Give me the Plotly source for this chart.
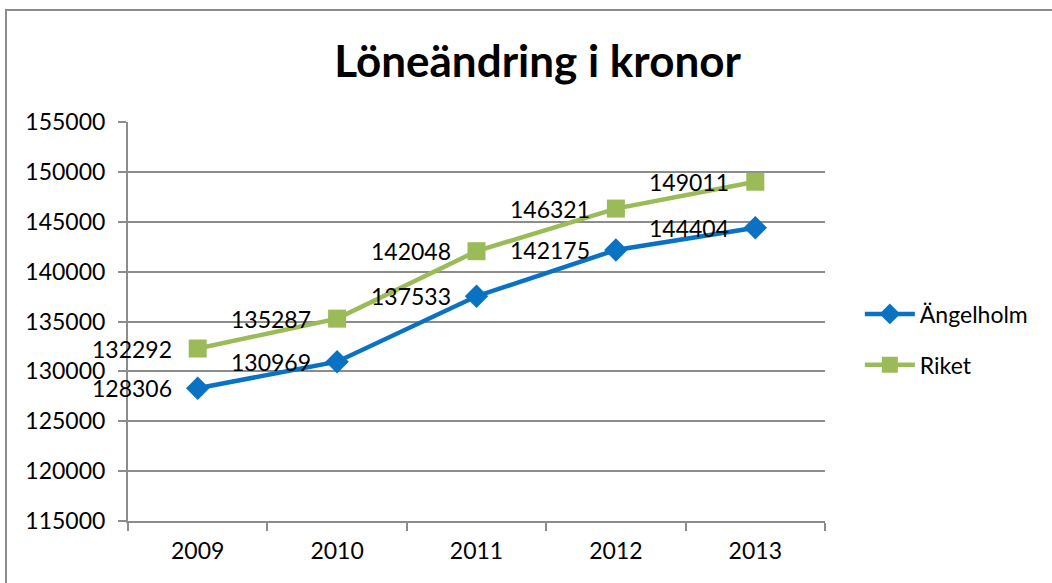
import plotly.graph_objects as go

years = ["2009", "2010", "2011", "2012", "2013"]
angelholm = [128306, 130969, 137533, 142175, 144404]
riket = [132292, 135287, 142048, 146321, 149011]
y_ticks = [115000, 120000, 125000, 130000, 135000, 140000, 145000, 150000, 155000]

font = "Lato, Carlito, 'DejaVu Sans', sans-serif"
grid = "#8c8c8c"
xpos = list(range(len(years)))

fig = go.Figure()
fig.add_trace(go.Scatter(
    x=xpos, y=angelholm, name="Ängelholm", legendgroup="a",
    mode="lines+markers",
    line=dict(color="#0a72c2", width=4.5),
    marker=dict(symbol="diamond", size=18, color="#0a72c2"),
))
fig.add_trace(go.Scatter(
    x=xpos, y=riket, name="Riket", legendgroup="b",
    mode="lines+markers",
    line=dict(color="#9bbb59", width=4.5),
    marker=dict(symbol="square", size=18, color="#9bbb59"),
))

# data labels to the left of each point
for series in (angelholm, riket):
    for i, v in zip(xpos, series):
        fig.add_annotation(x=i, y=v, text=str(v), showarrow=False,
                           xanchor="right", yanchor="middle", xshift=-24,
                           font=dict(size=23, color="black"))

fig.update_layout(
    width=1052, height=583,
    margin=dict(l=128, r=227, t=122, b=62),
    paper_bgcolor="white", plot_bgcolor="white",
    font=dict(family=font, size=23, color="black"),
    title=dict(text="<b>Löneändring i kronor</b>", x=0.511, xanchor="center",
               y=0.895, yanchor="middle", font=dict(size=44)),
    showlegend=True,
    legend=dict(x=1.05, y=0.455, xanchor="left", yanchor="middle",
                font=dict(size=23), tracegroupgap=18, itemwidth=50),
    shapes=[dict(type="rect", xref="paper", yref="paper",
                 x0=(6 - 128) / 697, x1=(1070 - 128) / 697,
                 y0=-0.3, y1=1 + (122 - 10) / 399,
                 line=dict(color="#8c8c8c", width=2))],
)
fig.update_xaxes(
    range=[-0.5, len(years) - 0.5], tickvals=xpos, ticktext=years, ticks="",
    minor=dict(tickvals=[i - 0.5 for i in range(len(years) + 1)],
               ticks="outside", ticklen=8, tickwidth=2, tickcolor=grid, showgrid=False),
    showline=True, linecolor=grid, linewidth=2, ticklabelstandoff=8,
    showgrid=False, zeroline=False, tickfont=dict(size=23),
)
fig.update_yaxes(
    range=[115000, 155000], tickvals=y_ticks,
    ticktext=[str(t) for t in y_ticks], ticks="outside", ticklen=8, tickwidth=2,
    tickcolor=grid, showline=True, linecolor=grid, linewidth=2,
    showgrid=True, gridcolor=grid, gridwidth=1.5, zeroline=False,
    tickfont=dict(size=23), ticklabelstandoff=8,
)

fig.write_html("out.html", config=dict(displayModeBar=False),
               post_script="document.body.style.margin='0';document.body.style.overflow='hidden';")
